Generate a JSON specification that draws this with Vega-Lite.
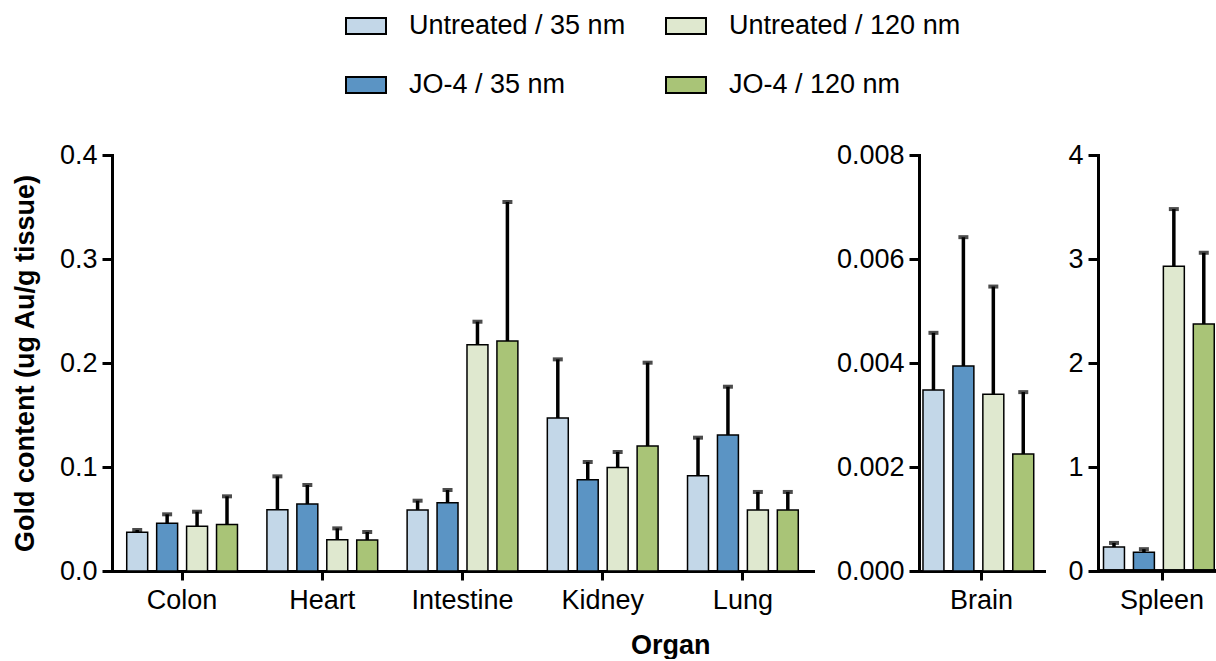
{
  "$schema": "https://vega.github.io/schema/vega-lite/v6.json",
  "padding": {"left": 11, "top": 5, "right": 0, "bottom": 0},
  "background": "white",
  "config": {
    "font": "Liberation Sans",
    "view": {"stroke": null},
    "axis": {
      "domainColor": "black", "domainWidth": 3, "tickColor": "black", "tickWidth": 3,
      "labelFont": "Liberation Sans", "labelFontSize": 27, "labelColor": "black",
      "titleFont": "Liberation Sans", "titleFontSize": 27, "titleFontWeight": "bold", "titleColor": "black",
      "grid": false, "domainCap": "square"
    },
    "axisX": {"tickSize": 9, "labelPadding": 7, "labelAngle": 0, "title": null},
    "axisY": {"tickSize": 10, "labelPadding": 5},
    "legend": {
      "symbolType": "M-1,-0.4H1V0.4H-1Z", "symbolSize": 1600, "symbolStrokeColor": "black", "symbolStrokeWidth": 2,
      "labelFont": "Liberation Sans", "labelFontSize": 27, "labelColor": "black", "labelOffset": 22, "labelLimit": 500,
      "columnPadding": 36, "rowPadding": 25
    }
  },
  "title": {"text": "Organ", "orient": "bottom", "anchor": "middle", "fontSize": 27, "fontWeight": "bold", "font": "Liberation Sans", "color": "black", "offset": 20, "dx": 52},
  "data": {"values": [
    {"panel": "main", "organ": "Colon", "group": "Untreated / 35 nm", "mean": 0.0372, "upper": 0.0394},
    {"panel": "main", "organ": "Colon", "group": "JO-4 / 35 nm", "mean": 0.0458, "upper": 0.0545},
    {"panel": "main", "organ": "Colon", "group": "Untreated / 120 nm", "mean": 0.043, "upper": 0.057},
    {"panel": "main", "organ": "Colon", "group": "JO-4 / 120 nm", "mean": 0.0446, "upper": 0.0718},
    {"panel": "main", "organ": "Heart", "group": "Untreated / 35 nm", "mean": 0.059, "upper": 0.091},
    {"panel": "main", "organ": "Heart", "group": "JO-4 / 35 nm", "mean": 0.0644, "upper": 0.0827},
    {"panel": "main", "organ": "Heart", "group": "Untreated / 120 nm", "mean": 0.0301, "upper": 0.041},
    {"panel": "main", "organ": "Heart", "group": "JO-4 / 120 nm", "mean": 0.0298, "upper": 0.0375},
    {"panel": "main", "organ": "Intestine", "group": "Untreated / 35 nm", "mean": 0.0587, "upper": 0.0676},
    {"panel": "main", "organ": "Intestine", "group": "JO-4 / 35 nm", "mean": 0.0657, "upper": 0.0779},
    {"panel": "main", "organ": "Intestine", "group": "Untreated / 120 nm", "mean": 0.2175, "upper": 0.2397},
    {"panel": "main", "organ": "Intestine", "group": "JO-4 / 120 nm", "mean": 0.2212, "upper": 0.3548},
    {"panel": "main", "organ": "Kidney", "group": "Untreated / 35 nm", "mean": 0.1471, "upper": 0.2035},
    {"panel": "main", "organ": "Kidney", "group": "JO-4 / 35 nm", "mean": 0.0878, "upper": 0.1048},
    {"panel": "main", "organ": "Kidney", "group": "Untreated / 120 nm", "mean": 0.0994, "upper": 0.1144},
    {"panel": "main", "organ": "Kidney", "group": "JO-4 / 120 nm", "mean": 0.1202, "upper": 0.2003},
    {"panel": "main", "organ": "Lung", "group": "Untreated / 35 nm", "mean": 0.0916, "upper": 0.1282},
    {"panel": "main", "organ": "Lung", "group": "JO-4 / 35 nm", "mean": 0.1308, "upper": 0.1772},
    {"panel": "main", "organ": "Lung", "group": "Untreated / 120 nm", "mean": 0.0587, "upper": 0.076},
    {"panel": "main", "organ": "Lung", "group": "JO-4 / 120 nm", "mean": 0.0587, "upper": 0.076},
    {"panel": "brain", "organ": "Brain", "group": "Untreated / 35 nm", "mean": 0.00348, "upper": 0.00458},
    {"panel": "brain", "organ": "Brain", "group": "JO-4 / 35 nm", "mean": 0.00394, "upper": 0.00642},
    {"panel": "brain", "organ": "Brain", "group": "Untreated / 120 nm", "mean": 0.0034, "upper": 0.00547},
    {"panel": "brain", "organ": "Brain", "group": "JO-4 / 120 nm", "mean": 0.00225, "upper": 0.00344},
    {"panel": "spleen", "organ": "Spleen", "group": "Untreated / 35 nm", "mean": 0.23, "upper": 0.27},
    {"panel": "spleen", "organ": "Spleen", "group": "JO-4 / 35 nm", "mean": 0.18, "upper": 0.21},
    {"panel": "spleen", "organ": "Spleen", "group": "Untreated / 120 nm", "mean": 2.93, "upper": 3.48},
    {"panel": "spleen", "organ": "Spleen", "group": "JO-4 / 120 nm", "mean": 2.375, "upper": 3.06}
  ]},
  "resolve": {"scale": {"color": "shared", "x": "independent", "y": "independent"}, "legend": {"color": "shared"}},
  "spacing": 23,
  "hconcat": [
    {
      "width": 701, "height": 416,
      "transform": [{"filter": "datum.panel == 'main'"}],
      "encoding": {
        "x": {"field": "organ", "type": "nominal", "sort": ["Colon", "Heart", "Intestine", "Kidney", "Lung"], "scale": {"paddingInner": 0.21, "paddingOuter": 0.105}, "axis": {"title": null}},
        "xOffset": {"field": "group", "type": "nominal", "sort": ["Untreated / 35 nm", "JO-4 / 35 nm", "Untreated / 120 nm", "JO-4 / 120 nm"], "scale": {"paddingInner": 0.3, "paddingOuter": 0}}
      },
      "layer": [
        {
          "mark": {"type": "bar", "stroke": "black", "strokeWidth": 1.5},
          "encoding": {
            "y": {"field": "mean", "type": "quantitative", "scale": {"domain": [0, 0.4], "nice": false}, "axis": {"title": "Gold content (ug Au/g tissue)", "values": [0, 0.1, 0.2, 0.3, 0.4], "format": ".1f", "titlePadding": 20}},
            "color": {"field": "group", "type": "nominal", "title": null,
              "scale": {"domain": ["Untreated / 35 nm", "Untreated / 120 nm", "JO-4 / 35 nm", "JO-4 / 120 nm"], "range": ["#c3d7e8", "#dfe8cf", "#5b94c4", "#a9c477"]},
              "legend": {"orient": "none", "legendX": 233, "legendY": -150, "columns": 2, "direction": "horizontal"}}
          }
        },
        {
          "mark": {"type": "rule", "strokeWidth": 3.5, "color": "black"},
          "encoding": {"y": {"field": "mean", "type": "quantitative"}, "y2": {"field": "upper"}}
        },
        {
          "mark": {"type": "tick", "orient": "horizontal", "size": 10, "thickness": 4, "color": "black"},
          "encoding": {"y": {"field": "upper", "type": "quantitative"}}
        }
      ]
    },
    {
      "width": 125, "height": 416,
      "transform": [{"filter": "datum.panel == 'brain'"}],
      "encoding": {
        "x": {"field": "organ", "type": "nominal", "scale": {"paddingInner": 0, "paddingOuter": 0.034}, "axis": {"title": null}},
        "xOffset": {"field": "group", "type": "nominal", "sort": ["Untreated / 35 nm", "JO-4 / 35 nm", "Untreated / 120 nm", "JO-4 / 120 nm"], "scale": {"paddingInner": 0.3, "paddingOuter": 0}}
      },
      "layer": [
        {
          "mark": {"type": "bar", "stroke": "black", "strokeWidth": 1.5},
          "encoding": {
            "y": {"field": "mean", "type": "quantitative", "scale": {"domain": [0, 0.008], "nice": false}, "axis": {"title": null, "values": [0, 0.002, 0.004, 0.006, 0.008], "format": ".3f"}},
            "color": {"field": "group", "type": "nominal", "title": null}
          }
        },
        {
          "mark": {"type": "rule", "strokeWidth": 3.5, "color": "black"},
          "encoding": {"y": {"field": "mean", "type": "quantitative"}, "y2": {"field": "upper"}}
        },
        {
          "mark": {"type": "tick", "orient": "horizontal", "size": 10, "thickness": 4, "color": "black"},
          "encoding": {"y": {"field": "upper", "type": "quantitative"}}
        }
      ]
    },
    {
      "width": 124, "height": 416,
      "transform": [{"filter": "datum.panel == 'spleen'"}],
      "layer": [
        {
          "mark": {"type": "bar", "stroke": "black", "strokeWidth": 1.5, "clip": true},
          "encoding": {
            "x": {"field": "organ", "type": "nominal", "scale": {"range": [0, 128], "paddingInner": 0, "paddingOuter": 0.047}, "axis": {"title": null, "domain": false}},
            "xOffset": {"field": "group", "type": "nominal", "sort": ["Untreated / 35 nm", "JO-4 / 35 nm", "Untreated / 120 nm", "JO-4 / 120 nm"], "scale": {"paddingInner": 0.3, "paddingOuter": 0}},
            "y": {"field": "mean", "type": "quantitative", "scale": {"domain": [0, 4], "nice": false}, "axis": {"title": null, "values": [0, 1, 2, 3, 4], "format": "d"}},
            "color": {"field": "group", "type": "nominal", "title": null}
          }
        },
        {
          "mark": {"type": "rule", "strokeWidth": 3.5, "color": "black", "clip": true},
          "encoding": {
            "x": {"field": "organ", "type": "nominal"},
            "xOffset": {"field": "group", "type": "nominal", "sort": ["Untreated / 35 nm", "JO-4 / 35 nm", "Untreated / 120 nm", "JO-4 / 120 nm"]},
            "y": {"field": "mean", "type": "quantitative"}, "y2": {"field": "upper"}}
        },
        {
          "mark": {"type": "tick", "orient": "horizontal", "size": 10, "thickness": 4, "color": "black", "clip": true},
          "encoding": {
            "x": {"field": "organ", "type": "nominal"},
            "xOffset": {"field": "group", "type": "nominal", "sort": ["Untreated / 35 nm", "JO-4 / 35 nm", "Untreated / 120 nm", "JO-4 / 120 nm"]},
            "y": {"field": "upper", "type": "quantitative"}}
        },
        {
          "mark": {"type": "rule", "strokeWidth": 3, "color": "black"},
          "encoding": {"y": {"datum": 0}}
        }
      ]
    }
  ]
}
